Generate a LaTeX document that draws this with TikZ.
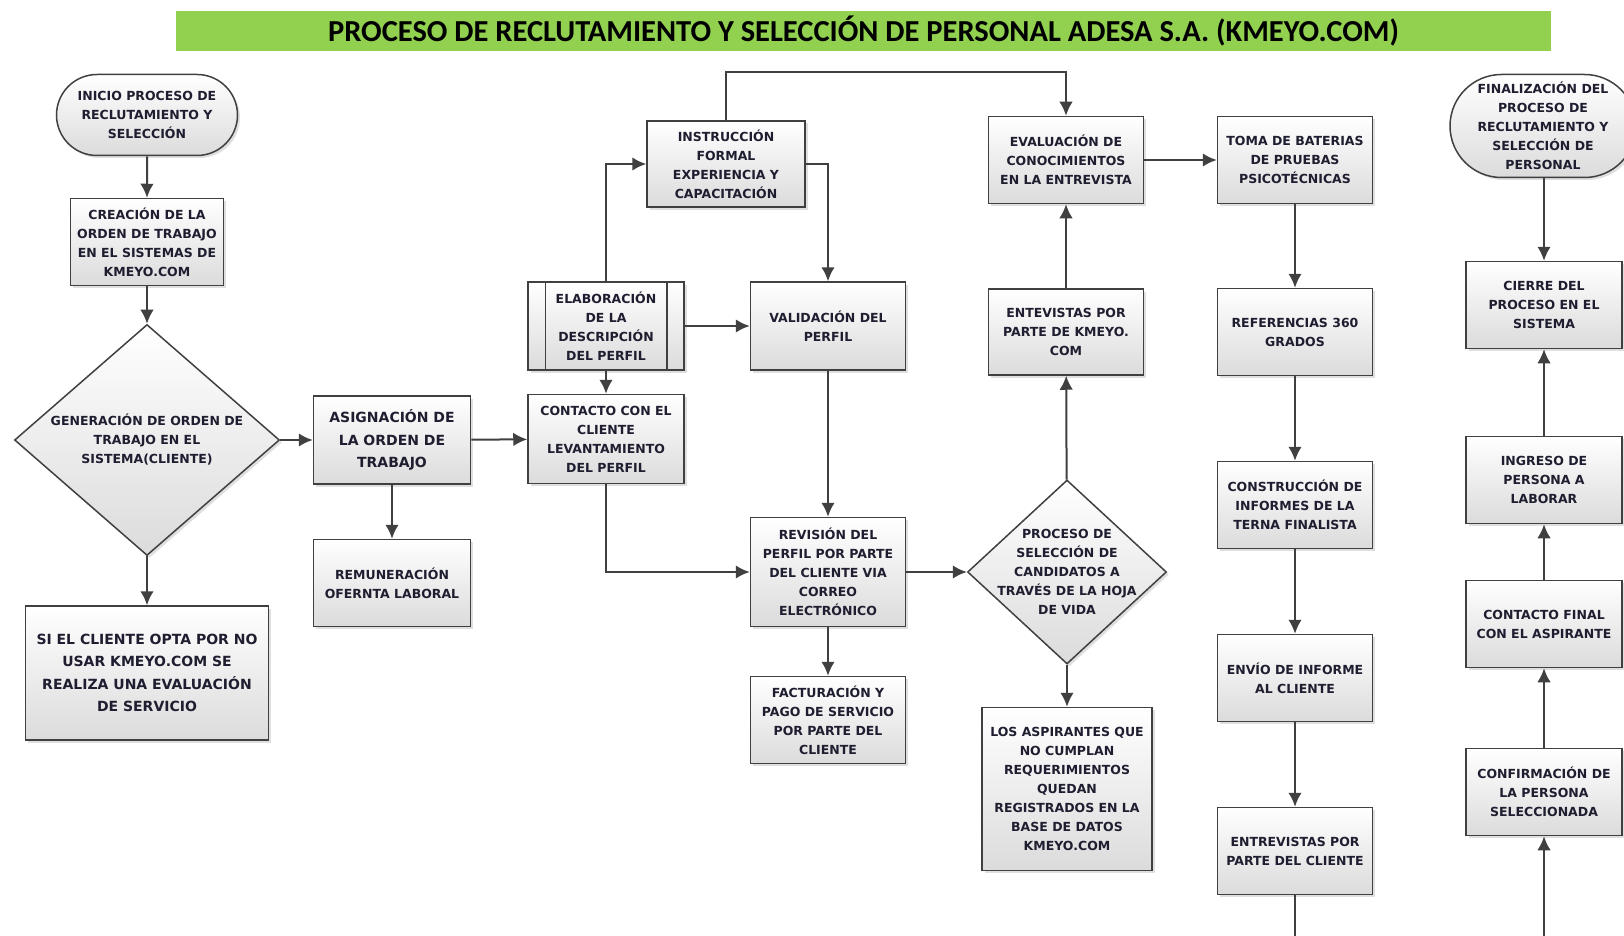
\documentclass[tikz,border=0pt]{standalone}
\usepackage{fontspec}
\setmainfont{DejaVu Sans}
\newfontfamily\titelschrift{Carlito}
\usepackage{tikz}
\definecolor{titelgruen}{RGB}{146,208,80}
\definecolor{linie}{RGB}{64,64,64}
\definecolor{schrift}{RGB}{30,30,48}
\usetikzlibrary{arrows.meta, shapes.geometric, shapes.misc, shadows}

\begin{document}
\begin{tikzpicture}[x=1pt, y=-1pt,
					>={Latex[length=14pt, width=13.5pt]},   %Pfeilspitzen
					schatten/.style={drop shadow={shadow xshift=2.5pt, shadow yshift=-2.5pt, opacity=.25}},
					caja/.style={rectangle, draw=linie, line width=1.5pt, top color=white, bottom color=black!14,
						minimum width=155pt, minimum height=87pt, inner sep=0pt, align=center, text=schrift,
						font=\fontsize{12.5}{19}\selectfont\bfseries, schatten},
					grande/.style={caja, font=\fontsize{14}{22.5}\selectfont\bfseries},
					terminal/.style={caja, rounded rectangle},
					decision/.style={caja, diamond, minimum width=#1},
					dtexto/.style={align=center, text=schrift, font=\fontsize{12.5}{19}\selectfont\bfseries, inner sep=0pt},
					flecha/.style={->, draw=linie, line width=2pt},
					titel/.style={fill=titelgruen, minimum width=1375pt, minimum height=40pt, inner sep=0pt,
						font=\titelschrift\bfseries\fontsize{30.5}{32}\selectfont}]
					%Hintergrund und Bildbereich
					\fill[white] (0,0) rectangle (1624,936);
					\useasboundingbox (0,0) rectangle (1624,936);
					% Titel
					\node[titel] (titel) at (863.5,31.5) {PROCESO DE RECLUTAMIENTO Y SELECCIÓN DE PERSONAL ADESA S.A. (KMEYO.COM)};
					% Erste Spalte
					\node[terminal, minimum width=181pt, minimum height=81pt] (inicio) at (147,115) {INICIO PROCESO DE\\RECLUTAMIENTO Y\\SELECCIÓN};
					\node[caja, minimum width=153pt] (creacion) at (147,242) {CREACIÓN DE LA\\ORDEN DE TRABAJO\\EN EL SISTEMAS DE\\KMEYO.COM};
					\node[decision=265pt, minimum height=231pt] (generacion) at (147,440) {};
					\node[dtexto] (generacion-t) at (generacion) {GENERACIÓN DE ORDEN DE\\TRABAJO EN EL\\SISTEMA(CLIENTE)};
					\node[grande, minimum width=243pt, minimum height=134pt] (siel) at (147,673) {SI EL CLIENTE OPTA POR NO\\USAR KMEYO.COM SE\\REALIZA UNA EVALUACIÓN\\DE SERVICIO};
					% Zweite Spalte
					\node[grande, minimum width=157pt, minimum height=88pt] (asignacion) at (392,440) {ASIGNACIÓN DE\\LA ORDEN DE\\TRABAJO};
					\node[caja, minimum width=157pt] (remuneracion) at (392,583) {REMUNERACIÓN\\OFERNTA LABORAL};
					% Profil
					\node[caja, minimum width=156pt, minimum height=88pt] (elaboracion) at (606,326) {ELABORACIÓN\\DE LA\\DESCRIPCIÓN\\DEL PERFIL};
					\draw[linie, line width=1.5pt] ([xshift=18pt]elaboracion.north west) -- ([xshift=18pt]elaboracion.south west);
					\draw[linie, line width=1.5pt] ([xshift=-18pt]elaboracion.north east) -- ([xshift=-18pt]elaboracion.south east);
					\node[caja, minimum width=156pt, minimum height=89pt] (contacto) at (606,439) {CONTACTO CON EL\\CLIENTE\\LEVANTAMIENTO\\DEL PERFIL};
					\node[caja, minimum width=158pt, minimum height=86pt] (instruccion) at (726,164) {INSTRUCCIÓN\\FORMAL\\EXPERIENCIA Y\\CAPACITACIÓN};
					\node[caja, minimum height=88pt] (validacion) at (828,326) {VALIDACIÓN DEL\\PERFIL};
					\node[caja, minimum height=109pt] (revision) at (828,572) {REVISIÓN DEL\\PERFIL POR PARTE\\DEL CLIENTE VIA\\CORREO\\ELECTRÓNICO};
					\node[caja] (facturacion) at (828,720) {FACTURACIÓN Y\\PAGO DE SERVICIO\\POR PARTE DEL\\CLIENTE};
					% Auswahl
					\node[caja] (evaluacion) at (1066,160) {EVALUACIÓN DE\\CONOCIMIENTOS\\EN LA ENTREVISTA};
					\node[caja, minimum height=86pt] (entevistas) at (1066,332) {ENTEVISTAS POR\\PARTE DE KMEYO.\\COM};
					\node[decision=199pt, minimum height=184pt] (proceso) at (1067,572) {};
					\node[dtexto] (proceso-t) at (proceso) {PROCESO DE\\SELECCIÓN DE\\CANDIDATOS A\\TRAVÉS DE LA HOJA\\DE VIDA};
					\node[caja, minimum width=170pt, minimum height=163pt] (aspirantes) at (1067,789) {LOS ASPIRANTES QUE\\NO CUMPLAN\\REQUERIMIENTOS\\QUEDAN\\REGISTRADOS EN LA\\BASE DE DATOS\\KMEYO.COM};
					% Pruebas und Berichte
					\node[caja] (toma) at (1295,160) {TOMA DE BATERIAS\\DE PRUEBAS\\PSICOTÉCNICAS};
					\node[caja] (referencias) at (1295,332) {REFERENCIAS 360\\GRADOS};
					\node[caja] (construccion) at (1295,505) {CONSTRUCCIÓN DE\\INFORMES DE LA\\TERNA FINALISTA};
					\node[caja] (envio) at (1295,678) {ENVÍO DE INFORME\\AL CLIENTE};
					\node[caja] (entrevistas) at (1295,851) {ENTREVISTAS POR\\PARTE DEL CLIENTE};
					% Letzte Spalte
					\node[terminal, minimum width=186pt, minimum height=103pt] (fin) at (1543,126) {FINALIZACIÓN DEL\\PROCESO DE\\RECLUTAMIENTO Y\\SELECCIÓN DE\\PERSONAL};
					\node[caja, minimum width=156pt] (cierre) at (1544,305) {CIERRE DEL\\PROCESO EN EL\\SISTEMA};
					\node[caja, minimum width=156pt] (ingreso) at (1544,480) {INGRESO DE\\PERSONA A\\LABORAR};
					\node[caja, minimum width=156pt] (final) at (1544,624) {CONTACTO FINAL\\CON EL ASPIRANTE};
					\node[caja, minimum width=156pt] (confirmacion) at (1544,792) {CONFIRMACIÓN DE\\LA PERSONA\\SELECCIONADA};
					% Hilfspunkte
					\coordinate (oben) at (726,72);
					\coordinate (unten1) at (1295,940);
					\coordinate (unten2) at (1544,940);
					% Pfeile zeichnen
					\draw[flecha] (inicio) -- (creacion);
					\draw[flecha] (creacion) -- (generacion);
					\draw[flecha] (generacion) -- (siel);
					\draw[flecha] (generacion) -- (asignacion);
					\draw[flecha] (asignacion) -- (remuneracion);
					\draw[flecha] (asignacion) -- (contacto);
					\draw[flecha] (elaboracion) -- (contacto);
					\draw[flecha] (elaboracion) -- (validacion);
					\draw[flecha] (elaboracion.north) |- (instruccion.west);
					\draw[flecha] (instruccion.east) -| (validacion.north);
					\draw[flecha] (instruccion.north) -- (oben) -| (evaluacion.north);
					\draw[flecha] (validacion) -- (revision);
					\draw[flecha] (contacto.south) |- (revision.west);
					\draw[flecha] (revision) -- (facturacion);
					\draw[flecha] (revision) -- (proceso);
					\draw[flecha] (proceso) -- (entevistas);
					\draw[flecha] (entevistas) -- (evaluacion);
					\draw[flecha] (proceso) -- (aspirantes);
					\draw[flecha] (evaluacion) -- (toma);
					\foreach \a/\b in {toma/referencias, referencias/construccion, construccion/envio, envio/entrevistas}
						\draw[flecha] (\a) -- (\b);
					\draw[draw=linie, line width=2pt] (entrevistas) -- (unten1);
					\draw[flecha] (unten2) -- (confirmacion);
					\foreach \a/\b in {confirmacion/final, final/ingreso, ingreso/cierre}
						\draw[flecha] (\a) -- (\b);
					\draw[flecha] (fin.south -| cierre) -- (cierre);
				\end{tikzpicture}
\end{document}
